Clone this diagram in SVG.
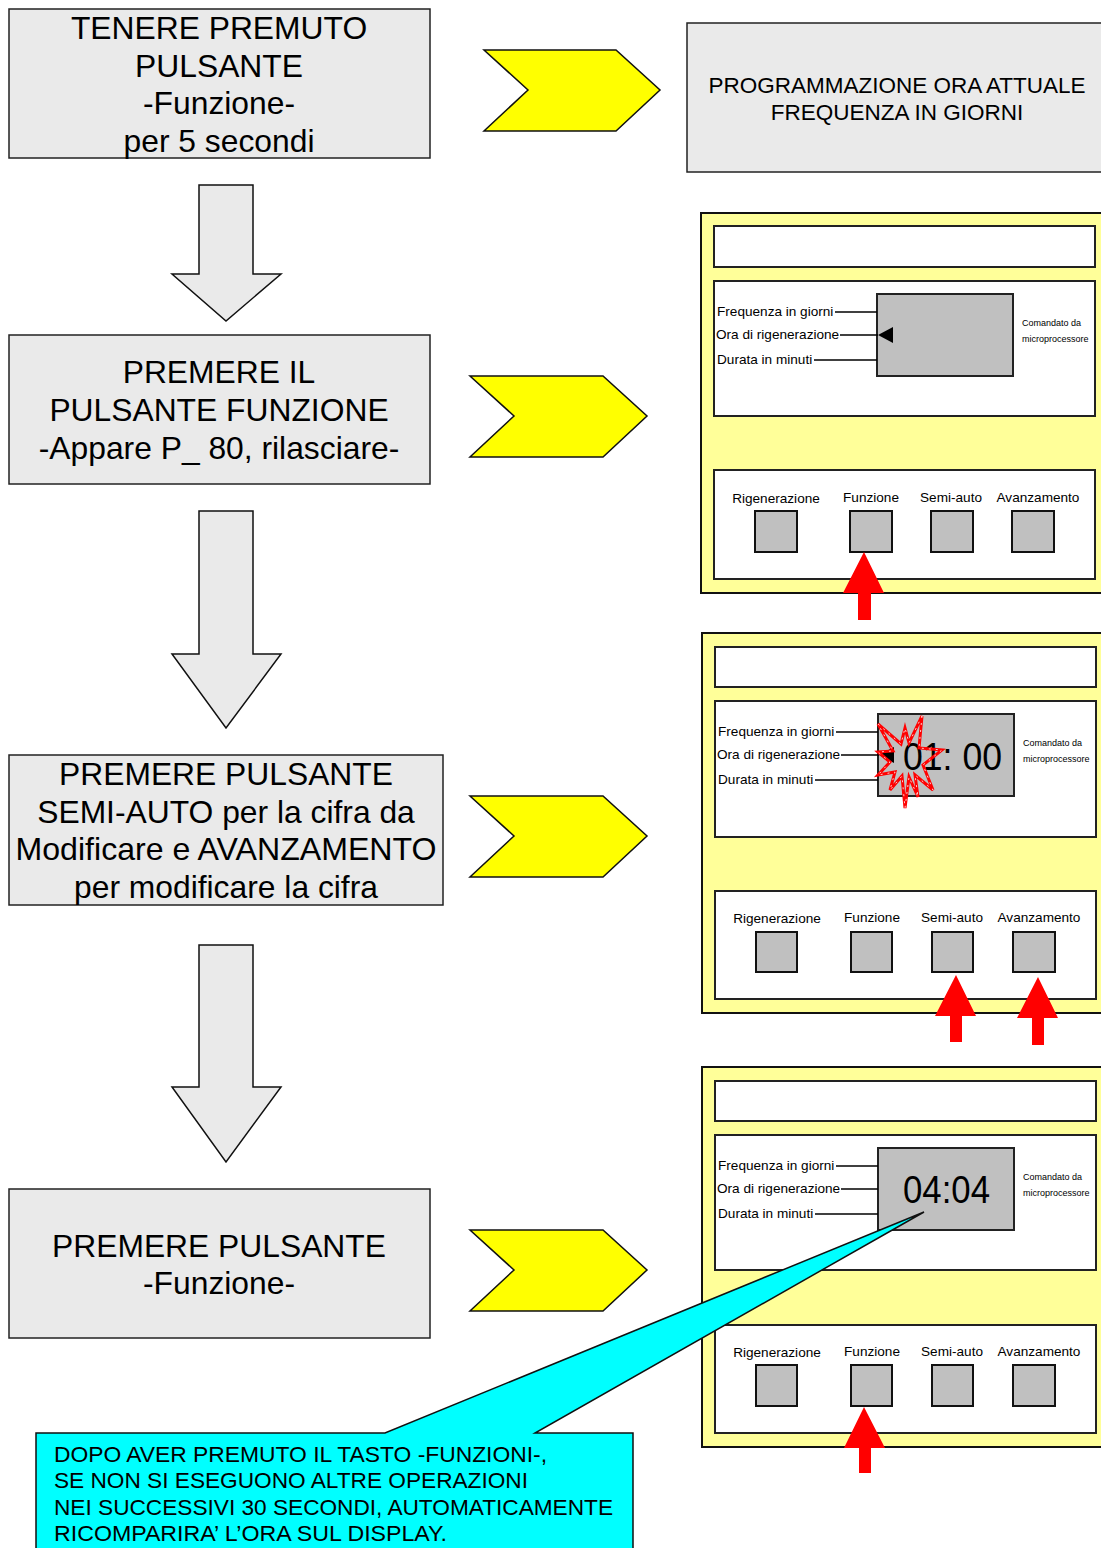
<svg xmlns="http://www.w3.org/2000/svg" width="1101" height="1548" viewBox="0 0 1101 1548">
<style>
text{font-family:"Liberation Sans",Arial,sans-serif;fill:#000}
.box{fill:#eaeaea;stroke:#222;stroke-width:1.5}
.big{font-size:31.8px;text-anchor:middle}
.hdr{font-size:22.5px;text-anchor:middle}
.chev{fill:#ffff00;stroke:#111;stroke-width:1.5;stroke-linejoin:miter}
.down{fill:#eaeaea;stroke:#111;stroke-width:1.5}
.panel{fill:#ffff99;stroke:#111;stroke-width:2}
.wr{fill:#fff;stroke:#222;stroke-width:2}
.disp{fill:#c0c0c0;stroke:#222;stroke-width:2}
.btn{fill:#c0c0c0;stroke:#111;stroke-width:2}
.lbl{font-size:13.6px}
.bl{font-size:13.6px;text-anchor:middle}
.sm{font-size:9px}
.ln{stroke:#000;stroke-width:1.5}
.red{fill:#ff0000}
.call{fill:#00ffff;stroke:#111;stroke-width:1.5}
.ct{font-size:22px}
</style>

<g id="step1">
<rect class="box" x="9" y="9" width="421" height="149"/>
<text class="big" x="219" y="39">TENERE PREMUTO</text>
<text class="big" x="219" y="77">PULSANTE</text>
<text class="big" x="219" y="114">-Funzione-</text>
<text class="big" x="219" y="152">per 5 secondi</text>
</g>

<g id="header">
<rect class="box" x="687" y="23" width="430" height="149"/>
<text class="hdr" x="897" y="93">PROGRAMMAZIONE ORA ATTUALE</text>
<text class="hdr" x="897" y="120">FREQUENZA IN GIORNI</text>
</g>

<g id="step2">
<rect class="box" x="9" y="335" width="421" height="149"/>
<text class="big" x="219" y="383">PREMERE IL</text>
<text class="big" x="219" y="421">PULSANTE FUNZIONE</text>
<text class="big" x="219" y="459">-Appare P_ 80, rilasciare-</text>
</g>

<g id="step3">
<rect class="box" x="9" y="755" width="434" height="150"/>
<text class="big" x="226" y="785">PREMERE PULSANTE</text>
<text class="big" x="226" y="823">SEMI-AUTO per la cifra da</text>
<text class="big" x="226" y="860" textLength="421" lengthAdjust="spacingAndGlyphs">Modificare e AVANZAMENTO</text>
<text class="big" x="226" y="898">per modificare la cifra</text>
</g>

<g id="step4">
<rect class="box" x="9" y="1189" width="421" height="149"/>
<text class="big" x="219" y="1257">PREMERE PULSANTE</text>
<text class="big" x="219" y="1294">-Funzione-</text>
</g>

<g id="connectors">
<polygon class="down" points="199,185 253,185 253,274 281,274 226,321 172,274 199,274"/>
<polygon class="down" points="199,511 253,511 253,654 281,654 226,728 172,654 199,654"/>
<polygon class="down" points="199,945 253,945 253,1087 281,1087 226,1162 172,1087 199,1087"/>
<polygon class="chev" points="484,50 616,50 660,90 616,131 484,131 528,90"/>
<polygon class="chev" points="470,376 603,376 647,416 603,457 470,457 514,416"/>
<polygon class="chev" points="470,796 603,796 647,836 603,877 470,877 514,836"/>
<polygon class="chev" points="470,1230 603,1230 647,1270 603,1311 470,1311 514,1270"/>
</g>

<g id="panel1">
<rect class="panel" x="701" y="213" width="420" height="380"/>
<rect class="wr" x="714" y="226" width="381" height="41"/>
<rect class="wr" x="714" y="281" width="381" height="135"/>
<rect class="disp" x="877" y="294" width="136" height="82"/>
<text class="lbl" x="717" y="316">Frequenza in giorni</text>
<text class="lbl" x="716" y="339">Ora di rigenerazione</text>
<text class="lbl" x="717" y="364">Durata in minuti</text>
<line class="ln" x1="835" y1="312" x2="877" y2="312"/>
<line class="ln" x1="840" y1="335" x2="878" y2="335"/>
<line class="ln" x1="814" y1="360" x2="877" y2="360"/>
<polygon points="878,335 893,327 893,343" fill="#000"/>
<text class="sm" x="1022" y="326">Comandato da</text>
<text class="sm" x="1022" y="342">microprocessore</text>
<rect class="wr" x="714" y="470" width="381" height="109"/>
<text class="bl" x="776" y="503">Rigenerazione</text>
<text class="bl" x="871" y="502">Funzione</text>
<text class="bl" x="951" y="502">Semi-auto</text>
<text class="bl" x="1038" y="502">Avanzamento</text>
<rect class="btn" x="755" y="511" width="42" height="41"/>
<rect class="btn" x="850" y="511" width="42" height="41"/>
<rect class="btn" x="931" y="511" width="42" height="41"/>
<rect class="btn" x="1012" y="511" width="42" height="41"/>
<polygon class="red" points="864,552 884,593 871,593 871,620 858,620 858,593 843,593"/>
</g>

<g id="panel2">
<rect class="panel" x="702" y="633" width="420" height="380"/>
<rect class="wr" x="715" y="647" width="381" height="40"/>
<rect class="wr" x="715" y="701" width="381" height="136"/>
<rect class="disp" x="878" y="714" width="136" height="82"/>
<text class="lbl" x="718" y="736">Frequenza in giorni</text>
<text class="lbl" x="717" y="759">Ora di rigenerazione</text>
<text class="lbl" x="718" y="784">Durata in minuti</text>
<line class="ln" x1="836" y1="732" x2="878" y2="732"/>
<line class="ln" x1="841" y1="755" x2="879" y2="755"/>
<line class="ln" x1="815" y1="780" x2="878" y2="780"/>
<polygon points="879,755 894,747 894,763" fill="#000"/>
<text x="903" y="770" font-size="38" textLength="99" lengthAdjust="spacingAndGlyphs">01: 00</text>
<polygon points="922,716 919,748 942,750 923,765 933,790 915,775 918,797 909,777 905,808 902,776 890,790 895,772 878,775 890,762 878,752 893,751 878,724 901,744 905,728 909,743" fill="none" stroke="#ff0000" stroke-width="3" stroke-linejoin="miter"/>
<polygon points="922,716 919,748 942,750 923,765 933,790 915,775 918,797 909,777 905,808 902,776 890,790 895,772 878,775 890,762 878,752 893,751 878,724 901,744 905,728 909,743" fill="none" stroke="#fff" stroke-width="0.8" stroke-dasharray="2 5"/>
<text class="sm" x="1023" y="746">Comandato da</text>
<text class="sm" x="1023" y="762">microprocessore</text>
<rect class="wr" x="715" y="891" width="381" height="108"/>
<text class="bl" x="777" y="923">Rigenerazione</text>
<text class="bl" x="872" y="922">Funzione</text>
<text class="bl" x="952" y="922">Semi-auto</text>
<text class="bl" x="1039" y="922">Avanzamento</text>
<rect class="btn" x="756" y="932" width="41" height="40"/>
<rect class="btn" x="851" y="932" width="41" height="40"/>
<rect class="btn" x="932" y="932" width="41" height="40"/>
<rect class="btn" x="1013" y="932" width="42" height="40"/>
<polygon class="red" points="956,975 976,1016 962,1016 962,1042 950,1042 950,1016 935,1016"/>
<polygon class="red" points="1038,977 1058,1018 1044,1018 1044,1045 1032,1045 1032,1018 1017,1018"/>
</g>

<g id="panel3">
<rect class="panel" x="702" y="1067" width="420" height="380"/>
<rect class="wr" x="715" y="1081" width="381" height="40"/>
<rect class="wr" x="715" y="1135" width="381" height="135"/>
<rect class="disp" x="878" y="1148" width="136" height="82"/>
<text class="lbl" x="718" y="1170">Frequenza in giorni</text>
<text class="lbl" x="717" y="1193">Ora di rigenerazione</text>
<text class="lbl" x="718" y="1218">Durata in minuti</text>
<line class="ln" x1="836" y1="1166" x2="878" y2="1166"/>
<line class="ln" x1="841" y1="1189" x2="878" y2="1189"/>
<line class="ln" x1="815" y1="1214" x2="878" y2="1214"/>
<text x="903" y="1203" font-size="38" textLength="87" lengthAdjust="spacingAndGlyphs">04:04</text>
<text class="sm" x="1023" y="1180">Comandato da</text>
<text class="sm" x="1023" y="1196">microprocessore</text>
<rect class="wr" x="715" y="1325" width="381" height="108"/>
<text class="bl" x="777" y="1357">Rigenerazione</text>
<text class="bl" x="872" y="1356">Funzione</text>
<text class="bl" x="952" y="1356">Semi-auto</text>
<text class="bl" x="1039" y="1356">Avanzamento</text>
<rect class="btn" x="756" y="1365" width="41" height="41"/>
<rect class="btn" x="851" y="1365" width="41" height="41"/>
<rect class="btn" x="932" y="1365" width="41" height="41"/>
<rect class="btn" x="1013" y="1365" width="42" height="41"/>
<polygon class="red" points="864,1407 885,1448 871,1448 871,1473 859,1473 859,1448 844,1448"/>
</g>

<g id="callout">
<polygon class="call" points="36,1433 385,1433 924,1212 535,1433 633,1433 633,1560 36,1560"/>
<text class="ct" x="54" y="1462" textLength="493" lengthAdjust="spacingAndGlyphs">DOPO AVER PREMUTO IL TASTO -FUNZIONI-,</text>
<text class="ct" x="54" y="1488" textLength="474" lengthAdjust="spacingAndGlyphs">SE NON SI ESEGUONO ALTRE OPERAZIONI</text>
<text class="ct" x="54" y="1515" textLength="559" lengthAdjust="spacingAndGlyphs">NEI SUCCESSIVI 30 SECONDI, AUTOMATICAMENTE</text>
<text class="ct" x="54" y="1541" textLength="393" lengthAdjust="spacingAndGlyphs">RICOMPARIRA’ L’ORA SUL DISPLAY.</text>
</g>
</svg>
